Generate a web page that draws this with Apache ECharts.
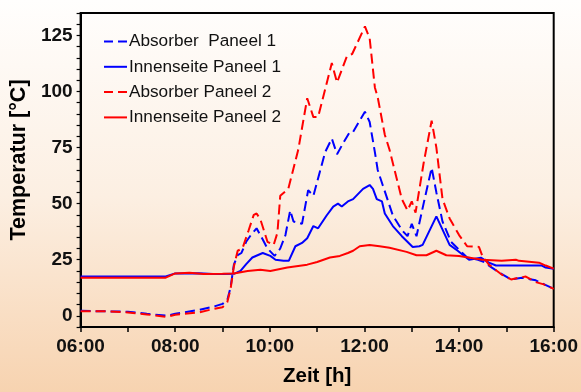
<!DOCTYPE html>
<html>
<head>
<meta charset="utf-8">
<script src="https://cdn.jsdelivr.net/npm/echarts@6/dist/echarts.min.js"></script>
<style>html,body{margin:0;padding:0;}#c{width:581px;height:392px;}</style>
</head>
<body>
<div id="c"></div>
<script>
// Series names
const seriesNames = ['Absorber  Paneel 1', 'Innenseite Paneel 1', 'Absorber Paneel 2', 'Innenseite Paneel 2'];
// [hour, °C]
const absorber1 = [[6.0,2.2],[6.5,2.0],[7.0,1.8],[7.4,0.9],[7.83,0],[8.0,0.9],[8.5,2.6],[8.8,4],[9.0,5.3],[9.1,7],[9.17,12.7],[9.24,22.8],[9.32,27],[9.4,28],[9.5,33],[9.6,36],[9.72,39],[9.85,34],[9.95,30],[10.1,26.7],[10.22,30],[10.33,36],[10.43,47],[10.5,42],[10.68,41],[10.81,56],[10.92,53.5],[11.17,73],[11.31,79],[11.42,72],[11.55,77],[11.69,82],[11.76,82],[12.01,91],[12.11,86.4],[12.22,73],[12.28,65],[12.39,58],[12.6,44.7],[12.8,38],[12.91,35.5],[13.0,41],[13.1,35.5],[13.25,50],[13.42,66],[13.52,55],[13.65,42],[13.83,33],[14.0,29.4],[14.17,26],[14.4,25],[14.57,23.7],[14.63,22.4],[14.85,19.3],[15.1,16.2],[15.33,17],[15.62,15.8],[15.8,14],[16.0,12]];
const innen1 = [[6.0,17.5],[7.8,17.5],[8.0,18.9],[8.5,19],[8.8,18.6],[9.0,18.6],[9.24,18.7],[9.38,20],[9.5,23],[9.63,26],[9.85,28],[10.01,26.7],[10.12,25],[10.29,24.5],[10.4,24.5],[10.54,31],[10.68,32.5],[10.79,34.6],[10.92,40],[11.02,39],[11.2,44.7],[11.34,48.7],[11.44,50],[11.52,48.7],[11.65,51],[11.76,52],[11.97,56.6],[12.11,58.3],[12.18,56.6],[12.26,52],[12.37,51],[12.43,45.6],[12.6,40],[12.79,35.5],[13.02,30.7],[13.16,31],[13.23,31.6],[13.52,44.3],[13.8,31.6],[13.97,29],[14.21,25],[14.46,25.9],[14.63,23.7],[14.78,22.4],[15.33,22.4],[15.75,22.4],[15.83,21.5],[16.0,21]];
const absorber2 = [[6.0,2.0],[6.5,2.0],[7.0,1.5],[7.4,0.6],[7.83,-0.5],[8.0,0.5],[8.5,1.5],[8.8,3],[9.0,3.8],[9.1,6],[9.17,12],[9.24,22],[9.32,29],[9.42,30],[9.55,38],[9.66,45],[9.72,45.6],[9.8,43],[9.95,33],[10.08,31.6],[10.16,37],[10.22,53.5],[10.39,56.6],[10.6,74],[10.79,97],[10.92,88.6],[11.02,88.6],[11.31,112.7],[11.42,104],[11.63,115.8],[11.74,116.7],[12.01,129],[12.11,123.7],[12.22,101.8],[12.28,97.4],[12.43,80.7],[12.53,74],[12.79,52],[12.91,47],[13.0,51],[13.08,46],[13.25,68],[13.42,87],[13.52,75],[13.65,52],[13.8,43.4],[14.0,36],[14.17,31],[14.42,30.7],[14.49,26.8],[14.63,22.8],[14.9,18.4],[15.1,16.2],[15.27,17],[15.41,17.5],[15.62,15],[15.79,14],[16.0,12]];
const innen2 = [[6.0,17],[7.8,17],[8.0,18.9],[8.3,19.2],[8.6,18.6],[9.0,18.7],[9.24,18.9],[9.53,20],[9.8,20.5],[10.01,20],[10.37,21.5],[10.79,22.8],[11.0,24],[11.27,26],[11.48,26.7],[11.65,28],[11.76,29],[11.9,31],[12.11,31.6],[12.32,31],[12.53,30.3],[12.89,28.5],[13.1,27],[13.31,27],[13.52,29],[13.73,27],[14.0,26.7],[14.49,25],[14.9,24.5],[15.2,25],[15.27,24.5],[15.69,23.7],[15.83,22.4],[16.0,21]];
// Axis ticks / labels
const yLabelValues = [0, 25, 50, 75, 100, 125];
const xLabelHours = [6, 8, 10, 12, 14, 16];

const FONT = '"Liberation Sans", Arial, sans-serif';
const chart = echarts.init(document.getElementById('c'));
const dash = [10, 5];
const ICON_DASH = 'path://M0,0H9V2H0Z M14,0H23V2H14Z';
const ICON_SOLID = 'path://M0,0H23V2H0Z';
function mk(name, data, color, dashed) {
  return {
    name, type: 'line', data, symbol: 'none', smooth: false,
    lineStyle: { color, width: 2, type: dashed ? dash : 'solid' },
    itemStyle: { color }, animation: false
  };
}
chart.setOption({
  animation: false,
  backgroundColor: {
    type: 'linear', x: 0, y: 0, x2: 0, y2: 1,
    colorStops: [{ offset: 0, color: '#fffefd' }, { offset: 0.5, color: '#fcefe2' }, { offset: 1, color: '#f7d3b0' }]
  },
  grid: { left: 79, right: 26, top: 13, bottom: 63, show: true, borderColor: '#000', borderWidth: 2, backgroundColor: 'transparent' },
  legend: {
    orient: 'vertical', left: 99, top: 28, itemWidth: 23, itemHeight: 2, itemGap: 8.3,
    textStyle: { fontFamily: FONT, fontSize: 17.2, color: '#111', padding: [0, 0, 0, -3] },
    data: [
      { name: seriesNames[0], icon: ICON_DASH },
      { name: seriesNames[1], icon: ICON_SOLID },
      { name: seriesNames[2], icon: ICON_DASH },
      { name: seriesNames[3], icon: ICON_SOLID }
    ]
  },
  xAxis: {
    type: 'value', min: 6, max: 16, interval: 1,
    name: 'Zeit [h]', nameLocation: 'middle', nameGap: 39,
    nameTextStyle: { fontFamily: FONT, fontSize: 20.5, fontWeight: 'bold', color: '#000' },
    axisLine: { onZero: false, lineStyle: { color: '#000', width: 2 } },
    axisTick: { show: true, length: 5, lineStyle: { color: '#000', width: 1.5 } },
    axisLabel: {
      margin: 10, fontFamily: FONT, fontSize: 19, fontWeight: 'bold', color: '#111',
      customValues: xLabelHours,
      formatter: v => (v < 10 ? '0' : '') + v + ':00'
    },
    splitLine: { show: false }
  },
  yAxis: {
    type: 'value', min: -5, max: 135, interval: 5,
    name: 'Temperatur [°C]', nameLocation: 'middle', nameGap: 42, nameRotate: 90,
    nameTextStyle: { fontFamily: FONT, fontSize: 21.5, fontWeight: 'bold', color: '#000', padding: [0, 0, 0, 20] },
    axisLine: { show: true, onZero: false, lineStyle: { color: '#000', width: 2 } },
    axisTick: { show: true, length: 4, lineStyle: { color: '#000', width: 1.2 } },
    axisLabel: { margin: 8, fontFamily: FONT, fontSize: 19, fontWeight: 'bold', color: '#111', customValues: yLabelValues },
    splitLine: { show: false }
  },
  series: [
    mk(seriesNames[0], absorber1, '#0000ff', true),
    mk(seriesNames[1], innen1, '#0000ff', false),
    mk(seriesNames[2], absorber2, '#ff0000', true),
    mk(seriesNames[3], innen2, '#ff0000', false)
  ]
});
</script>
</body>
</html>
